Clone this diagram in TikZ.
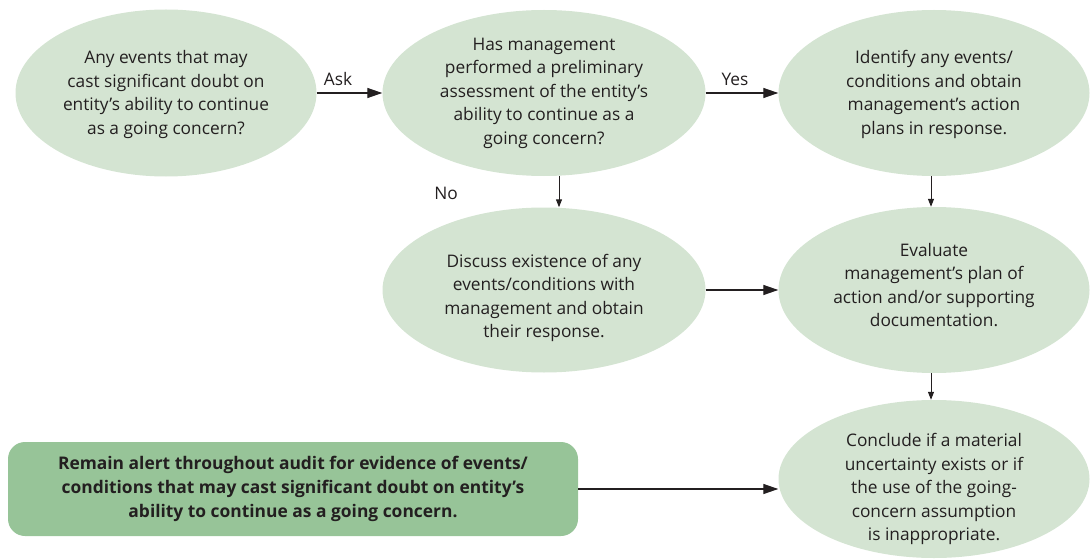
\documentclass[tikz,border=0pt]{standalone}
\usepackage{fontspec}
\setmainfont{Open Sans}
\usetikzlibrary{arrows.meta,shapes.geometric}
\definecolor{ellfill}{RGB}{212,228,210}
\definecolor{boxfill}{RGB}{151,196,152}
\definecolor{txt}{RGB}{35,31,32}
\begin{document}
\begin{tikzpicture}[x=1pt,y=-1pt,
  ell/.style={ellipse,fill=ellfill,draw=none,inner sep=0pt},
  etext/.style={align=center,text=txt,inner sep=0pt,font=\fontsize{17.3}{23.5}\selectfont},
  bigarrow/.style={draw=txt,line width=1.3pt,-{Triangle[length=15pt,width=10pt]}},
  smallarrow/.style={draw=txt,line width=1pt,-{Triangle[length=8pt,width=6pt]}},
  lbl/.style={text=txt,font=\fontsize{17.3}{20}\selectfont,inner sep=0pt}]
\useasboundingbox (0,0) rectangle (1092,559);

\node[ell,minimum width=301pt,minimum height=167pt,
  label={[etext,yshift=-1.5pt]center:{Any events that may\\cast significant doubt on\\entity’s ability to continue\\as a going concern?}}] (e1) at (166,93) {};
\node[ell,minimum width=323pt,minimum height=166pt,
  label={[etext]center:{Has management\\performed a preliminary\\assessment of the entity’s\\ability to continue as a\\going concern?}}] (e2) at (544,93) {};
\node[ell,minimum width=311pt,minimum height=166pt,
  label={[etext,yshift=-1.5pt]center:{Identify any events/\\conditions and obtain\\management’s action\\plans in response.}}] (e3) at (934,93) {};
\node[ell,minimum width=323pt,minimum height=165pt,
  label={[etext,yshift=-8pt]center:{Discuss existence of any\\events/conditions with\\management and obtain\\their response.}}] (e4) at (544,290) {};
\node[ell,minimum width=311pt,minimum height=166pt,
  label={[etext,yshift=5pt]center:{Evaluate\\management’s plan of\\action and/or supporting\\documentation.}}] (e5) at (934,290) {};
\node[ell,minimum width=311pt,minimum height=158pt,
  label={[etext,yshift=-10pt]center:{Conclude if a material\\uncertainty exists or if\\the use of the going-\\concern assumption\\is inappropriate.}}] (e6) at (934,479) {};

\node[rectangle,rounded corners=17pt,fill=boxfill,minimum width=570pt,minimum height=94pt,
  inner sep=0pt,align=center,text=txt,font=\bfseries\fontsize{17.4}{24}\selectfont] (b) at (293,489)
  {Remain alert throughout audit for evidence of events/\\conditions that may cast significant doubt on entity’s\\ability to continue as a going concern.};

\draw[bigarrow] (e1.east) -- (e2.west);
\draw[bigarrow] (e2.east) -- (e3.west);
\draw[bigarrow] (e4.east) -- (e5.west);
\draw[bigarrow] (b.east) -- (b.east -| e6.west);
\draw[smallarrow] ([xshift=15pt]e2.south) -- ([xshift=15pt]e4.north);
\draw[smallarrow] ([xshift=-3pt]e3.south) -- ([xshift=-3pt]e5.north);
\draw[smallarrow] ([xshift=-3pt]e5.south) -- ([xshift=-3pt]e6.north);

\node[lbl] (ask) at (338,79) {Ask};
\node[lbl] (yes) at (735,79) {Yes};
\node[lbl] (no) at (446,193) {No};
\end{tikzpicture}
\end{document}
